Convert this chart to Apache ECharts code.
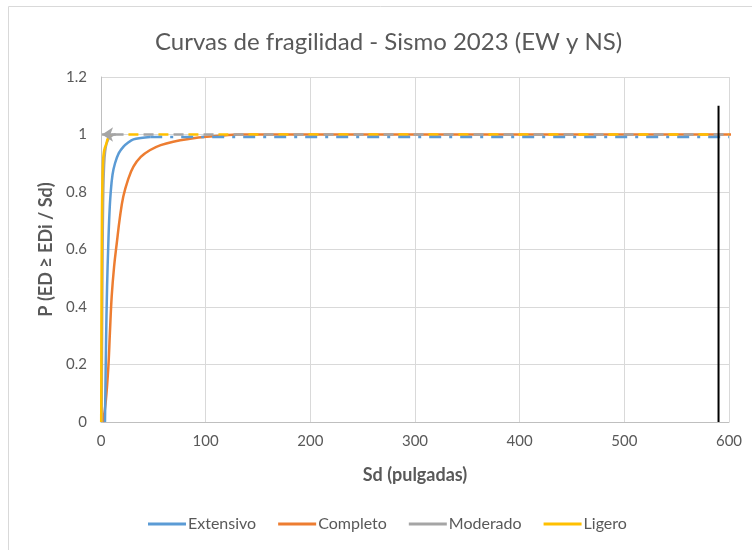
<!DOCTYPE html>
<html>
<head>
<meta charset="utf-8">
<script src="https://cdn.jsdelivr.net/npm/echarts@6/dist/echarts.min.js"></script>
<style>
  html, body { margin: 0; padding: 0; background: #fff; }
  #chart { width: 752px; height: 550px; }
</style>
</head>
<body>
<div id="chart"></div>
<script>
// valores (tramo curvo)
var extensivoX = [3.8, 4.8, 5.8, 7, 8, 9.2, 11, 13.4, 17, 21.3, 26, 31, 38, 47];
var extensivoY = [0, 0.27, 0.47, 0.62, 0.72, 0.795, 0.86, 0.9, 0.935, 0.957, 0.972, 0.983, 0.988, 0.991];

var completoX = [2, 4.5, 7, 8.5, 10.2, 12.5, 15, 18, 21.3, 26, 31, 38, 47, 57, 69, 85, 101, 130];
var completoY = [0, 0.07, 0.19, 0.31, 0.436, 0.54, 0.62, 0.71, 0.784, 0.845, 0.888, 0.922, 0.946, 0.963, 0.975, 0.985, 0.992, 1];

var moderadoX = [0.6, 1, 1.5, 2, 2.6, 3.4, 4.5, 6, 8, 12];
var moderadoY = [0, 0.3, 0.58, 0.76, 0.86, 0.92, 0.955, 0.975, 0.99, 1];

var ligeroX = [0.2, 0.5, 0.9, 1.4, 2, 2.8, 3.8, 4.8, 6.5, 9];
var ligeroY = [0, 0.42, 0.72, 0.85, 0.91, 0.94, 0.955, 0.965, 0.985, 1];

// tramo horizontal (discontinuo)
var extensivoPlanoX = [47, 600];
var extensivoPlanoY = [0.991, 0.991];
var completoPlanoX = [130, 620];
var completoPlanoY = [1, 1];
var moderadoPlanoX = [12, 600];
var moderadoPlanoY = [1, 1];
var ligeroPlanoX = [9, 600];
var ligeroPlanoY = [1, 1];

var limiteX = [590, 590];
var limiteY = [0, 1.1];

var yTicks = [0, 0.2, 0.4, 0.6, 0.8, 1, 1.2];

function pares(xs, ys) {
	return xs.map(function(x, i) { return [x, ys[i]]; });
}

var chart = echarts.init(document.getElementById('chart'));
var fuente = 'Lato, "Open Sans", sans-serif';

var option = {
	animation: false,
	textStyle: { fontFamily: fuente },
	title: {
		text: 'Curvas de fragilidad - Sismo 2023 (EW y NS)',
		left: 150,
		top: 25,
		textStyle: { fontSize: 24, fontWeight: 'normal', color: '#595959', fontFamily: fuente }
	},
	graphic: [{
		type: 'rect',
		shape: { x: 8.5, y: 6.5, width: 760, height: 560 },
		style: { fill: 'none', stroke: '#d9d9d9', lineWidth: 1 },
		silent: true
	}],
	grid: { left: 101, right: 23, top: 77, bottom: 128 },
	legend: {
		bottom: 13,
		left: 143,
		itemGap: 22,
		itemWidth: 38,
		itemHeight: 3,
		icon: 'rect',
		textStyle: { fontSize: 16, color: '#595959', fontFamily: fuente, padding: [0, 0, 0, -3] },
		data: ['Extensivo', 'Completo', 'Moderado', 'Ligero']
	},
	xAxis: {
		type: 'value',
		min: 0, max: 600, interval: 100,
		name: 'Sd (pulgadas)',
		nameLocation: 'middle',
		nameGap: 44,
		nameTextStyle: { fontSize: 18, fontWeight: 'bold', color: '#595959' },
		axisLine: { show: true, lineStyle: { color: '#bfbfbf', width: 1 } },
		axisTick: { show: false },
		axisLabel: { fontSize: 15, color: '#595959', margin: 12 },
		splitLine: { show: true, lineStyle: { color: '#d9d9d9', width: 1 } }
	},
	yAxis: {
		type: 'value',
		min: 0, max: 1.2, interval: 0.2,
		name: 'P (ED ≥ EDi / Sd)',
		nameLocation: 'middle',
		nameGap: 46,
		nameTextStyle: { fontSize: 18, fontWeight: 'bold', color: '#595959' },
		axisLine: { show: true, lineStyle: { color: '#bfbfbf', width: 1 } },
		axisTick: { show: false },
		axisLabel: {
			fontSize: 15, color: '#595959', margin: 14,
			formatter: function(v) {
				var t = yTicks.find(function(k) { return Math.abs(k - v) < 1e-6; });
				return t === undefined ? '' : String(t);
			}
		},
		splitLine: { show: true, lineStyle: { color: '#d9d9d9', width: 1 } }
	},
	series: [
		{
			name: 'Completo', type: 'line', smooth: 0.4, showSymbol: false,
			color: '#ed7d31', lineStyle: { width: 2.5 },
			data: pares(completoX, completoY), z: 2
		},
		{
			name: 'completoPlano', type: 'line', showSymbol: false, clip: false,
			color: '#ed7d31', lineStyle: { width: 2.5 },
			data: pares(completoPlanoX, completoPlanoY), z: 2
		},
		{
			name: 'Moderado', type: 'line', smooth: 0.4, showSymbol: false,
			color: '#a5a5a5', lineStyle: { width: 2.5 },
			data: pares(moderadoX, moderadoY), z: 3,
			markLine: {
				silent: true, symbol: ['none', 'arrow'], symbolSize: [11, 11],
				label: { show: false },
				lineStyle: { color: '#a5a5a5', width: 2.5, type: 'solid' },
				data: [[{ coord: [14, 1] }, { coord: [1, 1] }]]
			}
		},
		{
			name: 'moderadoPlano', type: 'line', showSymbol: false,
			color: '#a5a5a5', lineStyle: { width: 2.5, type: [10, 20] },
			data: pares(moderadoPlanoX, moderadoPlanoY), z: 3
		},
		{
			name: 'Ligero', type: 'line', smooth: 0.4, showSymbol: false,
			color: '#ffc000', lineStyle: { width: 2.5 },
			data: pares(ligeroX, ligeroY), z: 4
		},
		{
			name: 'ligeroPlano', type: 'line', showSymbol: false,
			color: '#ffc000', lineStyle: { width: 2.5, type: [10, 20], dashOffset: 12 },
			data: pares(ligeroPlanoX, ligeroPlanoY), z: 4
		},
		{
			name: 'Extensivo', type: 'line', smooth: 0.4, showSymbol: false,
			color: '#5b9bd5', lineStyle: { width: 2.5 },
			data: pares(extensivoX, extensivoY), z: 5
		},
		{
			name: 'extensivoPlano', type: 'line', showSymbol: false,
			color: '#5b9bd5', lineStyle: { width: 2.5, type: [12, 8, 3, 8] },
			data: pares(extensivoPlanoX, extensivoPlanoY), z: 5
		},
		{
			name: 'limite', type: 'line', showSymbol: false,
			color: '#000000', lineStyle: { width: 2 },
			data: pares(limiteX, limiteY), z: 6
		}
	]
};

chart.setOption(option);
</script>
</body>
</html>
